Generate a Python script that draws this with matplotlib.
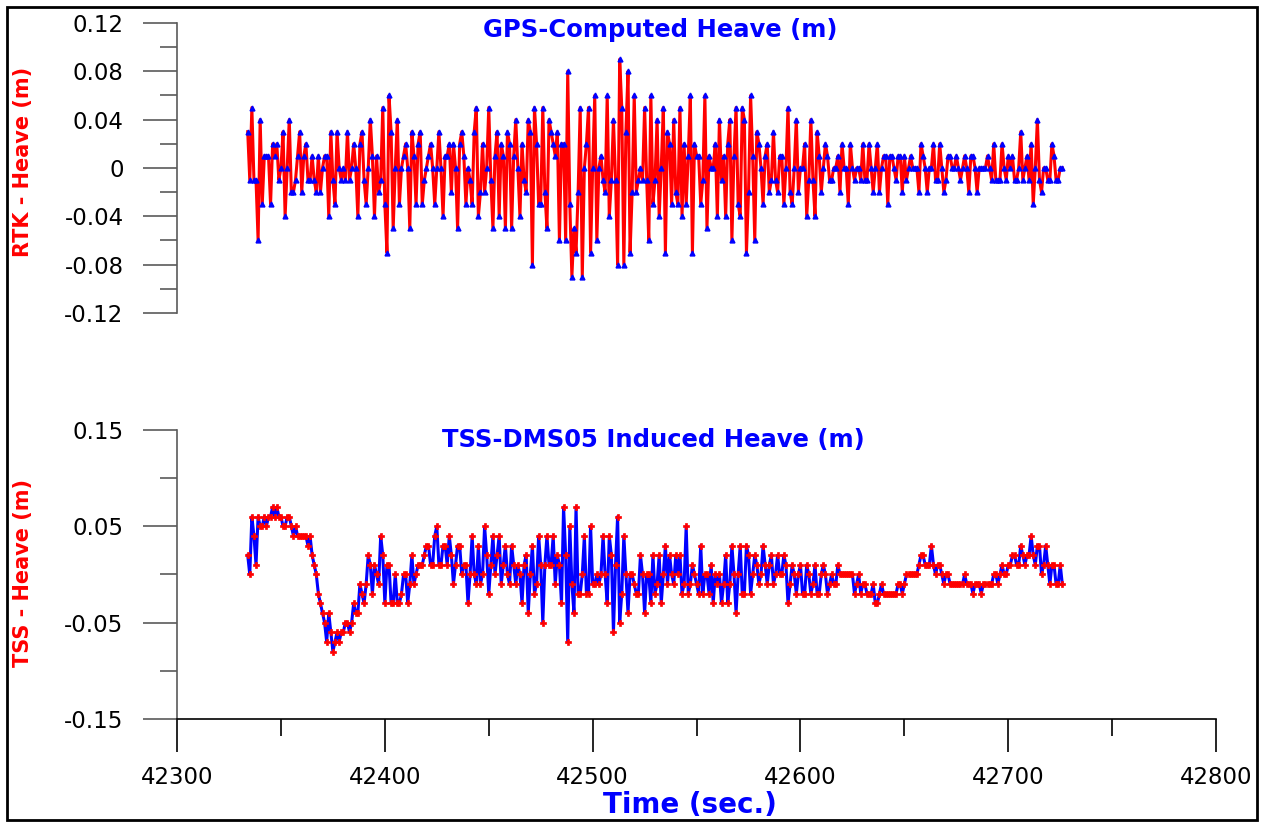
import numpy as np
import matplotlib
matplotlib.use("Agg")
import matplotlib.pyplot as plt
from matplotlib.patches import Rectangle

plt.rcParams['axes.unicode_minus'] = False

# heave values, in cm (1 sample per second)
rtk_cm = [
    3, -1, 5, -1, -1, -6, 4, -3, 1, 1, 1, -3, 2, 1, 2, -1, 0, 3, -4, 0, 4, -2, -2, -1, 1, 3, -2, 1, 2, -1, -1, 1,
    -1, -2, 1, -2, 0, 1, 1, -4, 3, -1, -3, 3, 0, -1, 0, -1, 3, -1, 0, 2, 0, -4, 2, 3, -1, -3, 0, 4, 1, -4, 1, -2,
    -1, 5, -3, -7, 6, 3, -5, 0, 4, -3, 0, 1, 2, 0, -5, 3, 1, -3, 2, 3, -3, -1, 0, 1, 2, 0, -3, 0, 3, 0, -4,
    1, 1, 2, -2, 2, 0, -5, 2, 3, 1, -3, 0, -1, -3, 3, 5, -4, -2, 2, -2, 0, 5, -1, -5, 1, 3, -4, 2, 1, -5,
    3, 2, -5, 1, 4, 0, -4, 2, -1, -2, 4, 3, -8, 5, 2, -3, -3, 5, -2, -5, 4, 3, 2, 1, 3, -6, 2, 2, -6, 8,
    -3, -9, -5, -7, -2, 5, -9, 0, 2, 5, -7, 0, 6, -6, 0, 1, -1, -2, 6, -4, -1, 4, -1, -8, 9, 5, -8, 3,
    8, -7, -2, 6, -2, -1, 0, -1, 5, -1, -6, 6, -3, -1, 4, -4, 0, 5, -7, 3, 2, -3, 4, -2, -3, 5, -4, 2, -3, 1,
    6, -7, 2, 1, 1, -3, -1, 6, -5, 1, 0, 0, 2, -4, 4, -1, 1, -4, 2, 4, -6, 1, 5, -3, -4, 5, 4, -7, -2, 6,
    1, -6, 3, 2, 0, -3, 1, 2, -2, -1, 3, -1, -2, 1, 1, -3, 0, 5, -2, -3, 0, 4, -2, 0, 0, 2, -4, -1, 4, -1,
    -4, 3, 1, -2,
    0, 2, 1, -1, -1, 0, 0, 1, -2, 2, 0, 0, -3, 2, 0, -1, 0, 0, -1, 2, -1, -1, 2, 0, -2, 0, 2, -2, 0, 1,
    1, -3, 1, 1, 0, -1, 1, 1, -2, 1, -1, 0, 1, 0, 0, 0, -2, 2, 1, 0, -2, 0, 0, 2, -1, -1, 2, 0, -2, -1,
    1, 1, 0, 0, 1, 0, -1, 0, 1, 0, -2, 1, 1, 0, -2, 0, 0, 0, 0, 1, 0, -1, 2, -1, -1, -1, 2, 0, -1, 1,
    0, 1, -1, -1, 0, 3, -1, 0, 1, -1, 2, -3, 0, 4, -1, -2, 0, 0, -1, -1, 2, 1, -1, -1, 0, 0,
]

tss_cm = [
    2, 0, 6, 4, 1, 6, 5, 5, 6, 5, 6, 6, 7, 6, 7, 6, 6, 5, 5, 6, 6, 5, 4, 5, 4, 4, 4, 4, 4, 3, 4, 2, 1, 0,
    -2, -3, -4, -5, -7, -4, -6, -8, -7, -6, -7, -6, -6, -5, -5, -6, -5, -3, -4, -4, -1, -2, -3, -1, 2, 1,
    -2, 1, 0, -1, 4, 2, -3, 1, 1, -3, -3, 0, -3, -3, -2, 0, 0, -3, -1, 2, -1, 0, 1, 1, 1, 2, 3, 3, 1, 1, 4, 5,
    1, 1, 3, 3, 1, 4, 2, -1, 1, 3, 3, 0, 1, 1, -3, 0, 4, 0, -1, 3, -1, 0, 5, 2, -2, 1, 4, 0, 2, 4,
    -1, 1, 3, 0, -1, 3, 1, -1, 1, 0, -3, 1, 2, -4, 0, 3, -2, -1, 4, 1, -5, 1, 4, 1, 1, 4, -1, 2, 1, -3,
    7, 2, -7, 5, -1, -4, 7, -2, -2, 0, 4, -2, -2, 5, -1, -1, 0, -1, 0, 4, 0, -3, 4, 2, -6, 1, 6, -5, -2, 4,
    0, -4,
    0, 0, -1, -2, -2, 2, 0, -4, 0, 0, -3, 2, -2, -1, 2, -3, 0, 3, -1, 2, 0, -1, 2, 0, 2, -2, -1, 5, -2, -1,
    1, 0, -1, -2, 3, -2, 0, 0, -2, 1, -3, 0, -1, 0, -3, -1, 2, -3, -1, 3, 0, -4, 0, 3, -2, -2, 3, 2, -2, 0,
    2, 1, -1, 0, 3, 1, -1, 1, 2, -1, 0, 2, 0, 0, 2, 1, -3, -1, 1, 0, -2, 0, 1, -2, -2, 1, 0, -2, -1, 1, -2,
    -2, 0, 1, 0, -2, -1, 0, -1, -1, 1, 0, 0, 0, 0, 0, 0, 0, -2, -1, 0, -2, -1, -1, -2, -2, -2, -1, -3, -3, -2,
    -1, -2, -2, -2, -2, -2, -2, -2, -1, -1, -2, -1, 0, 0, 0, 0, 0, 0, 1, 2, 2, 1, 1, 1, 3, 1, 0, 1, 1, 0,
    -1, 0, 0, -1, -1, -1, -1, -1, -1, -1, 0, -1, -1, -1, -2, -1, -1, -1, -2, -1, -1, -1, -1, -1, 0, 0, -1, 0, 1, 0,
    0, 1, 1, 2, 2, 1, 1, 3, 2, 1, 2, 2, 4, 2, 1, 3, 3, 0, 1, 3, 1, -1, 1, 1, -1, -1, 1, -1,
]

t_start = 42334
rtk = np.array(rtk_cm) / 100.0
tss = np.array(tss_cm) / 100.0
t_rtk = t_start + np.arange(len(rtk))
t_tss = t_start + np.arange(len(tss))

x_ticks = [42300, 42400, 42500, 42600, 42700, 42800]
rtk_ticks = [-0.12, -0.08, -0.04, 0, 0.04, 0.08, 0.12]
rtk_labels = ["-0.12", "-0.08", "-0.04", "0", "0.04", "0.08", "0.12"]
tss_ticks = [-0.15, -0.05, 0.05, 0.15]
tss_labels = ["-0.15", "-0.05", "0.05", "0.15"]

gray = "#5a5a5a"
fig = plt.figure(figsize=(12.71, 8.23), dpi=100)

#---------------------------------------- top: GPS heave ----------------------------------------#
ax1 = fig.add_axes([0.1393, 0.6197, 0.8175, 0.3524])
ax1.plot(t_rtk, rtk, c="red", lw=2.2, marker="^", ms=3.5, mfc="blue", mec="blue", zorder=3)
ax1.set_xlim(42300, 42800)
ax1.set_ylim(-0.12, 0.12)
ax1.set_yticks(rtk_ticks)
ax1.set_yticklabels(rtk_labels)
ax1.set_yticks(np.arange(-0.10, 0.11, 0.04), minor=True)
ax1.set_xticks([])
for s in ["top", "right", "bottom"]:
    ax1.spines[s].set_visible(False)
ax1.spines["left"].set_color(gray)
ax1.spines["left"].set_linewidth(1.2)
ax1.tick_params(axis="y", which="major", direction="out", length=24.5, width=1.2, color=gray,
                pad=14, labelsize=16.5)
ax1.tick_params(axis="y", which="minor", direction="out", length=12.5, width=1.2, color=gray)
ax1.text(0.465, 0.976, "GPS-Computed Heave (m)", transform=ax1.transAxes, ha="center", va="center",
         color="blue", fontsize=17.5, fontweight="bold")
ax1.set_ylabel("RTK - Heave (m)", color="red", fontsize=15, fontweight="bold")
ax1.yaxis.set_label_coords(-0.1386, 0.52)

#---------------------------------------- bottom: TSS heave ----------------------------------------#
ax2 = fig.add_axes([0.1393, 0.1264, 0.8175, 0.3512])
ax2.plot(t_tss, tss, c="blue", lw=2.2, marker="P", ms=4, mfc="red", mec="red", mew=0.5, zorder=3)
ax2.set_xlim(42300, 42800)
ax2.set_ylim(-0.15, 0.15)
ax2.set_yticks(tss_ticks)
ax2.set_yticklabels(tss_labels)
ax2.set_yticks([-0.10, 0.0, 0.10], minor=True)
ax2.set_xticks(x_ticks)
ax2.set_xticklabels([str(v) for v in x_ticks])
ax2.set_xticks(np.arange(42350, 42800, 100), minor=True)
for s in ["top", "right"]:
    ax2.spines[s].set_visible(False)
ax2.spines["left"].set_color(gray)
ax2.spines["left"].set_linewidth(1.2)
ax2.spines["bottom"].set_color("black")
ax2.spines["bottom"].set_linewidth(1.2)
ax2.tick_params(axis="y", which="major", direction="out", length=24.5, width=1.2, color=gray,
                pad=14, labelsize=16.5)
ax2.tick_params(axis="y", which="minor", direction="out", length=12.5, width=1.2, color=gray)
ax2.tick_params(axis="x", which="major", direction="out", length=24, width=1.2, color="black",
                pad=10, labelsize=16.5)
ax2.tick_params(axis="x", which="minor", direction="out", length=12, width=1.2, color="black")
ax2.text(0.458, 0.965, "TSS-DMS05 Induced Heave (m)", transform=ax2.transAxes, ha="center", va="center",
         color="blue", fontsize=17.5, fontweight="bold")
ax2.set_ylabel("TSS - Heave (m)", color="red", fontsize=15, fontweight="bold")
ax2.yaxis.set_label_coords(-0.1386, 0.505)

fig.text(690 / 1271, 1 - 805 / 823, "Time (sec.)", ha="center", va="center", color="blue",
         fontsize=20, fontweight="bold")

# frame round the whole picture
fig.patches.append(Rectangle((7 / 1271, 3 / 823), 1250 / 1271, 813 / 823, transform=fig.transFigure,
                             fill=False, edgecolor="black", linewidth=2))

fig.savefig("out.png", dpi=100)
